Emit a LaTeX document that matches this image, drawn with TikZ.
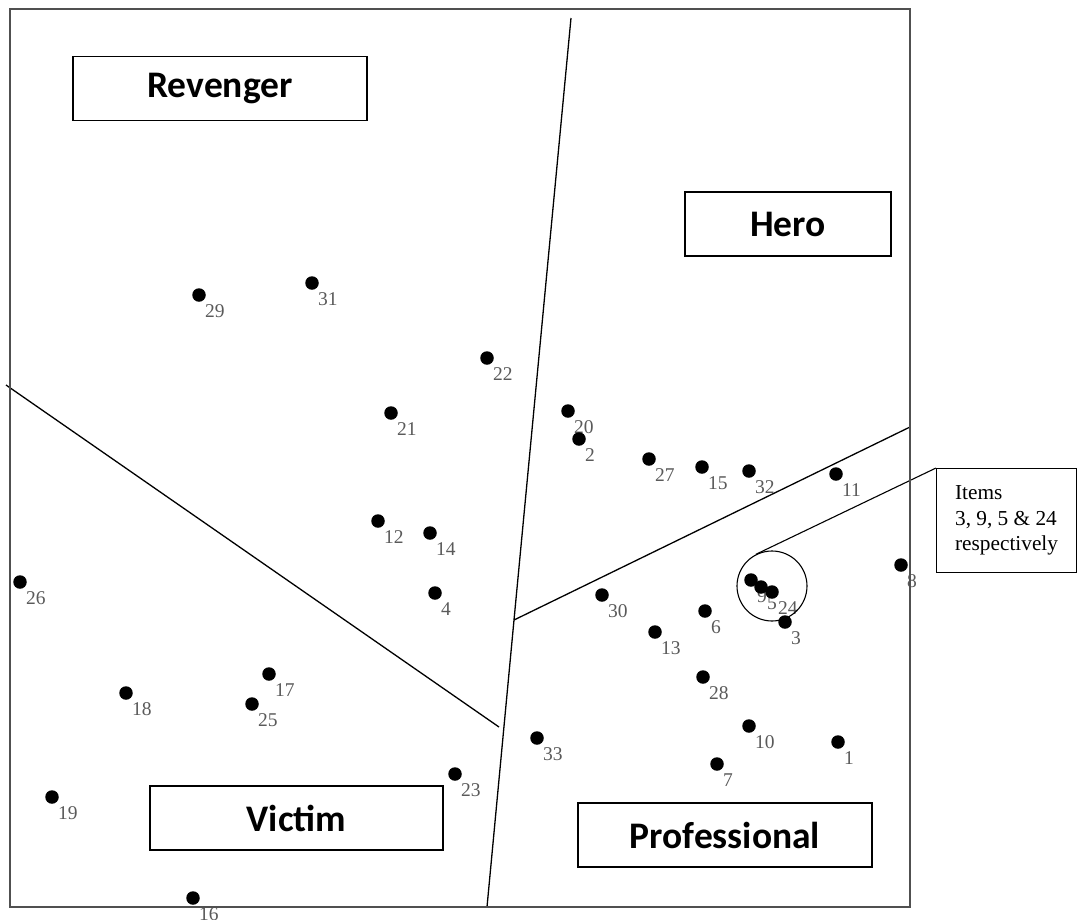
\documentclass[tikz,border=0pt]{standalone}
\usepackage{fontspec}
\setmainfont{Liberation Serif}
\newfontfamily\boxfont{Carlito}
\definecolor{numgray}{HTML}{5A5A5A}
\definecolor{framegray}{HTML}{505050}
\begin{document}
\begin{tikzpicture}[x=1pt,y=-1pt,
  dot/.style={circle,fill=black,inner sep=0pt,minimum size=13.5pt},
  num/.style={anchor=base west,inner sep=0pt,text=numgray,
    font=\fontsize{19.5}{19.5}\selectfont},
  zone/.style={draw=black,line width=1.2pt,inner sep=0pt,minimum height=64pt,
    font=\boxfont\bfseries\fontsize{37.5}{37.5}\selectfont},
  divider/.style={draw=black,line width=1.3pt},
  note/.style={draw=black,line width=1.1pt,anchor=north west,inner sep=0pt,
    minimum width=140pt,minimum height=104pt,align=left,
    font=\fontsize{21.3}{25.5}\selectfont}]
\useasboundingbox (0,0) rectangle (1077,919);

% partition lines
\coordinate (vtop) at (571,18);
\coordinate (vbot) at (487,907);
\coordinate (hub) at (514,620);
\coordinate (rend) at (910,427);
\coordinate (lstart) at (6,385);
\coordinate (lend) at (499,727);
\draw[divider] (vtop) -- (hub) -- (vbot);
\draw[divider] (hub) -- (rend);
\draw[divider] (lstart) -- (lend);

% category boxes
\node[zone,minimum width=294pt] (revenger) at (220,88.5) {Revenger};
\node[zone,minimum width=206pt] (hero) at (788,224) {Hero};
\node[zone,minimum width=293pt] (victim) at (296.5,818) {Victim};
\node[zone,minimum width=294pt] (professional) at (725,835) {Professional};

% item numbers, then the points on top
\foreach \n/\x/\y in {1/838/742,2/579/439,3/785/622,4/435/593,5/761/587,
  6/705/611,7/717/764,8/901/565,9/751/580,10/749/726,11/836/474,12/378/521,
  13/655/632,14/430/533,15/702/467,16/193/898,17/269/674,18/126/693,
  19/52/797,20/568/411,21/391/413,22/487/358,23/455/774,24/772/592,
  25/252/704,26/20/582,27/649/459,28/703/677,29/199/295,30/602/595,
  31/312/283,32/749/471,33/537/738}
  \node[num] (l\n) at (\x+6,\y+22) {\n};
\foreach \n/\x/\y in {1/838/742,2/579/439,3/785/622,4/435/593,5/761/587,
  6/705/611,7/717/764,8/901/565,9/751/580,10/749/726,11/836/474,12/378/521,
  13/655/632,14/430/533,15/702/467,16/193/898,17/269/674,18/126/693,
  19/52/797,20/568/411,21/391/413,22/487/358,23/455/774,24/772/592,
  25/252/704,26/20/582,27/649/459,28/703/677,29/199/295,30/602/595,
  31/312/283,32/749/471,33/537/738}
  \node[dot] (p\n) at (\x,\y) {};

% highlighted cluster and its note
\node[draw=black,line width=1.1pt,circle,inner sep=0pt,minimum size=70pt] (ring) at (772,586) {};
\node[note] (callout) at (936,468) {Items\\3, 9, 5 \& 24\\respectively};
\draw[line width=1.1pt] (ring.117) -- (callout.north west);

% outer frame
\draw[framegray,line width=2pt] (10,9) rectangle (910,907);
\end{tikzpicture}
\end{document}
